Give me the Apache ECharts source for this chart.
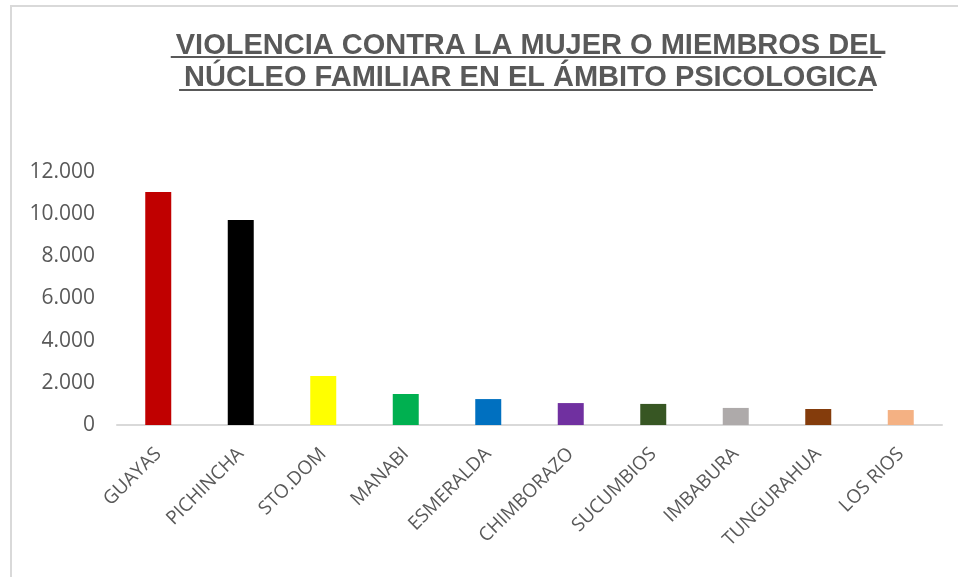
<!DOCTYPE html>
<html>
<head>
<meta charset="utf-8">
<script src="https://cdn.jsdelivr.net/npm/echarts@6/dist/echarts.min.js"></script>
<style>
    body { margin: 0; background: #fff; }
    #frame {
        position: absolute; left: 10px; top: 5px; width: 948px; height: 572px;
        border-left: 2px solid #d9d9d9; border-top: 2px solid #d9d9d9;
    }
    #chart { position: absolute; left: 0; top: 0; width: 958px; height: 577px; }
</style>
</head>
<body>
<div id="frame"></div>
<div id="chart"></div>
<script>
const titleLines = ["VIOLENCIA CONTRA LA MUJER O MIEMBROS DEL", "NÚCLEO FAMILIAR EN EL ÁMBITO PSICOLOGICA"];
const provinces = ["GUAYAS", "PICHINCHA", "STO.DOM", "MANABI", "ESMERALDA", "CHIMBORAZO", "SUCUMBIOS", "IMBABURA", "TUNGURAHUA", "LOS RIOS"];
const cases = [11050, 9720, 2320, 1470, 1230, 1040, 1000, 810, 760, 710];
const barColors = ["#C00000", "#000000", "#FFFF00", "#00B050", "#0070C0", "#7030A0", "#375623", "#AEAAAA", "#843C0C", "#F4B183"];

const titleFont = "bold 29px 'Liberation Sans'";
const titleCenter = 526;

// measure title lines so the underline fits
const ctx = document.createElement("canvas").getContext("2d");
ctx.font = titleFont;
const underlines = titleLines.map((t, i) => {
    const w = ctx.measureText(t).width;
    const y = 57 + i * 33;
    return {
        type: "line",
        shape: { x1: titleCenter - w / 2, y1: y, x2: titleCenter + w / 2, y2: y },
        style: { stroke: "#595959", lineWidth: 2 },
    };
});

const chart = echarts.init(document.getElementById("chart"));
chart.setOption({
    animation: false,
    title: {
        text: titleLines.join("\n"),
        left: titleCenter,
        textAlign: "center",
        top: 25,
        textStyle: {
            fontFamily: "Liberation Sans",
            fontWeight: "bold",
            fontSize: 29,
            lineHeight: 32,
            color: "#595959",
        },
    },
    graphic: underlines,
    grid: { left: 117, right: 16, top: 172, bottom: 152 },
    xAxis: {
        type: "category",
        data: provinces,
        axisLine: { lineStyle: { color: "#d9d9d9", width: 2 } },
        axisTick: { show: false },
        axisLabel: {
            rotate: 45,
            interval: 0,
            margin: 26,
            color: "#595959",
            fontFamily: "Open Sans",
            fontSize: 19,
        },
    },
    yAxis: {
        type: "value",
        min: 0,
        max: 12000,
        interval: 2000,
        splitLine: { show: false },
        axisLine: { show: false },
        axisLabel: {
            margin: 22,
            color: "#595959",
            fontFamily: "Open Sans",
            fontSize: 21,
            formatter: (v) => v.toLocaleString("de-DE"),
        },
    },
    series: [
        {
            type: "bar",
            barWidth: "31.5%",
            data: cases.map((v, i) => ({ value: v, itemStyle: { color: barColors[i] } })),
        },
    ],
});
</script>
</body>
</html>
